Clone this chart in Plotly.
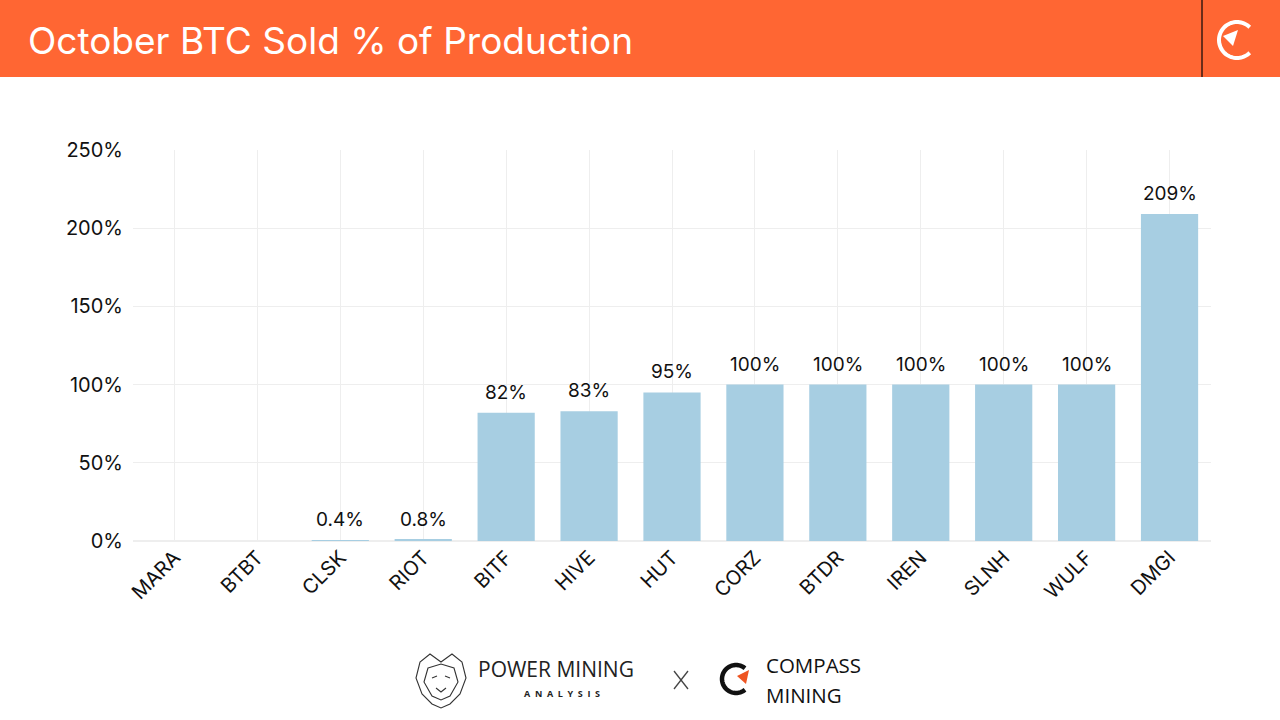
import numpy as np
import plotly.graph_objects as go

companies = ["MARA", "BTBT", "CLSK", "RIOT", "BITF", "HIVE", "HUT", "CORZ", "BTDR", "IREN", "SLNH", "WULF", "DMGI"]
sold_pct = [0, 0, 0.4, 0.8, 82, 83, 95, 100, 100, 100, 100, 100, 209]
bar_labels = ["", "", "0.4%", "0.8%", "82%", "83%", "95%", "100%", "100%", "100%", "100%", "100%", "209%"]
y_ticks = [0, 50, 100, 150, 200, 250]
y_tick_text = ["0%", "50%", "100%", "150%", "200%", "250%"]

W, H = 1280, 720
L, R, T, B = 133, 69, 150, 179
PW, PH = W - L - R, H - T - B

def px(x):
    return (x - L) / PW

def py(y):
    return 1 - (y - T) / PH

ORANGE = "#FF6633"

fig = go.Figure()
fig.add_trace(go.Bar(
    x=companies, y=sold_pct,
    marker=dict(color="#A7CEE2", line=dict(width=0)),
    hoverinfo="skip",
))

shapes = []
# header band
shapes.append(dict(type="rect", xref="paper", yref="paper", x0=px(0), x1=px(W), y0=py(77), y1=py(0),
                   fillcolor=ORANGE, line=dict(width=0), layer="below"))
shapes.append(dict(type="line", xref="paper", yref="paper", x0=px(1202), x1=px(1202), y0=py(77), y1=py(0),
                   line=dict(color="#3a1a10", width=1.5)))

def arc_path(cx, cy, r, a0, a1, n=60):
    pts = []
    for a in np.linspace(np.radians(a0), np.radians(a1), n):
        pts.append((px(cx + r * np.cos(a)), py(cy - r * np.sin(a))))
    return "M " + " L ".join(f"{x:.5f},{y:.5f}" for x, y in pts)

def poly_path(p, close=True):
    s = "M " + " L ".join(f"{px(x):.5f},{py(y):.5f}" for x, y in p)
    return s + (" Z" if close else "")

# header compass logo
shapes.append(dict(type="path", xref="paper", yref="paper", path=arc_path(1237, 40, 18, 45, 315),
                   line=dict(color="white", width=4)))
shapes.append(dict(type="path", xref="paper", yref="paper",
                   path=poly_path([(1223, 36), (1238, 30), (1233, 46)]), fillcolor="white", line=dict(width=0)))
# footer compass logo
shapes.append(dict(type="path", xref="paper", yref="paper", path=arc_path(736, 679, 14, 50, 310),
                   line=dict(color="#111111", width=4.5)))
shapes.append(dict(type="path", xref="paper", yref="paper",
                   path=poly_path([(737, 676), (749, 670), (746, 684)]), fillcolor="#EE5522", line=dict(width=0)))
# thin X separator
shapes.append(dict(type="line", xref="paper", yref="paper", x0=px(674), x1=px(688), y0=py(671), y1=py(689),
                   line=dict(color="#444444", width=1.3)))
shapes.append(dict(type="line", xref="paper", yref="paper", x0=px(674), x1=px(688), y0=py(689), y1=py(671),
                   line=dict(color="#444444", width=1.3)))
# simplified lion mark
lc = dict(color="#333333", width=1.1)
shapes.append(dict(type="path", xref="paper", yref="paper",
                   path=poly_path([(430, 654), (441, 662), (452, 654), (462, 662), (466, 678), (460, 694),
                                   (450, 704), (441, 708), (432, 704), (422, 694), (416, 678), (420, 662)]),
                   line=lc, fillcolor="rgba(0,0,0,0)"))
shapes.append(dict(type="path", xref="paper", yref="paper",
                   path=poly_path([(428, 668), (441, 664), (454, 668), (458, 682), (450, 696), (441, 700),
                                   (432, 696), (424, 682)]),
                   line=lc, fillcolor="rgba(0,0,0,0)"))
shapes.append(dict(type="path", xref="paper", yref="paper",
                   path=poly_path([(432, 678), (437, 676)], close=False), line=lc))
shapes.append(dict(type="path", xref="paper", yref="paper",
                   path=poly_path([(445, 676), (450, 678)], close=False), line=lc))
shapes.append(dict(type="path", xref="paper", yref="paper",
                   path=poly_path([(436, 688), (441, 692), (446, 688)], close=False), line=lc))

annotations = [
    dict(text="October BTC Sold % of Production", xref="paper", yref="paper", x=px(26), y=py(40),
         xanchor="left", yanchor="middle", showarrow=False,
         font=dict(size=37, color="white", family="Inter")),
    dict(text="POWER MINING", xref="paper", yref="paper", x=px(477), y=py(684),
         xanchor="left", yanchor="bottom", showarrow=False, borderpad=0,
         font=dict(size=21, color="#222222", family="Open Sans")),
    dict(text="<b>A  N  A  L  Y  S  I  S</b>", xref="paper", yref="paper", x=px(562), y=py(686),
         xanchor="center", yanchor="top", showarrow=False, borderpad=0,
         font=dict(size=9, color="#222222", family="Open Sans")),
    dict(text="COMPASS", xref="paper", yref="paper", x=px(765), y=py(680),
         xanchor="left", yanchor="bottom", showarrow=False, borderpad=0,
         font=dict(size=20.5, color="#111111", family="Open Sans")),
    dict(text="MINING", xref="paper", yref="paper", x=px(765), y=py(680),
         xanchor="left", yanchor="top", showarrow=False, borderpad=0,
         font=dict(size=20.5, color="#111111", family="Open Sans")),
]
for c, v, t in zip(companies, sold_pct, bar_labels):
    if t:
        annotations.append(dict(text=t, x=c, y=v, xref="x", yref="y", xanchor="center", yanchor="bottom",
                                yshift=7, showarrow=False,
                                font=dict(size=19, color="#111111", family="Inter")))

fig.update_layout(
    width=W, height=H, margin=dict(l=L, r=R, t=T, b=B),
    paper_bgcolor="white", plot_bgcolor="white",
    showlegend=False, bargap=0.31,
    shapes=shapes, annotations=annotations,
    font=dict(family="Inter", color="#111111"),
)
fig.update_xaxes(showgrid=True, gridcolor="#EEEEEE", gridwidth=1, tickangle=-45,
                 tickfont=dict(size=20, color="#111111", family="Inter"),
                 showline=False, zeroline=False, ticks="", fixedrange=True)
fig.update_yaxes(range=[0, 250], tickvals=y_ticks, ticktext=y_tick_text,
                 showgrid=True, gridcolor="#EEEEEE", gridwidth=1,
                 tickfont=dict(size=20, color="#111111", family="Inter"),
                 zeroline=True, zerolinecolor="#EEEEEE", showline=False, ticks="",
                 ticklabelstandoff=9)

fig.write_html("out.html", config={"displayModeBar": False},
               post_script="document.body.style.margin='0';")
